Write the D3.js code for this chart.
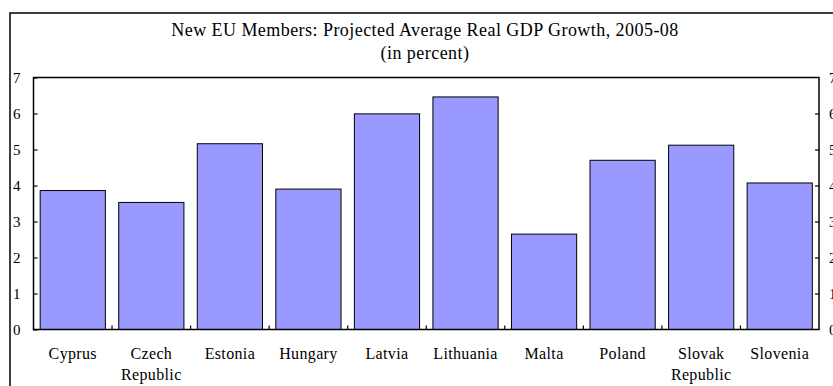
<!DOCTYPE html>
<html><head><meta charset="utf-8">
<script src="https://cdn.jsdelivr.net/npm/d3@7"></script>
<style>
html,body{margin:0;padding:0;background:#fff;}
svg{display:block;}
text{font-family:"Liberation Serif","Times New Roman",serif;fill:#000;}
</style></head>
<body>
<svg id="chart" width="833" height="386"></svg>
<script>
const categories = ["Cyprus","Czech\nRepublic","Estonia","Hungary","Latvia","Lithuania","Malta","Poland","Slovak\nRepublic","Slovenia"];
const growth = [3.86,3.53,5.16,3.9,5.99,6.46,2.65,4.7,5.12,4.07];
const yTicks = [0,1,2,3,4,5,6,7];
const titleLines = ["New EU Members: Projected Average Real GDP Growth, 2005-08","(in percent)"];

const svg = d3.select("#chart");
const L = 33.5, R = 819, T = 77.5, B = 329.5;

// outer frame (extends past canvas)
svg.append("rect").attr("x",10).attr("y",13).attr("width",900).attr("height",500)
  .attr("fill","none").attr("stroke","#000").attr("stroke-width",1.5);

const x = d3.scaleBand().domain(categories).range([L,R]).paddingInner(0.17).paddingOuter(0.085);
const y = d3.scaleLinear().domain([0,7]).range([B,T]);

// title
svg.selectAll("text.title").data(titleLines).join("text").attr("class","title")
  .attr("x",425).attr("y",(d,i)=>36+i*23).attr("text-anchor","middle")
  .style("font-size","18px").style("letter-spacing","0.45px").text(d=>d);

// bars
svg.selectAll("rect.bar").data(growth).join("rect").attr("class","bar")
  .attr("x",(d,i)=>x(categories[i])).attr("width",x.bandwidth())
  .attr("y",d=>y(d)).attr("height",d=>B-y(d))
  .attr("fill","#9999FF").attr("stroke","#000").attr("stroke-width",1);

// plot frame
svg.append("rect").attr("x",L).attr("y",T).attr("width",R-L).attr("height",B-T)
  .attr("fill","none").attr("stroke","#000").attr("stroke-width",1.5);

// left axis
const yl = svg.append("g").attr("transform",`translate(${L},0)`)
  .call(d3.axisRight(y).tickValues(yTicks).tickSize(4).tickFormat(""));
yl.select(".domain").remove();
yl.selectAll("line").attr("stroke","#000").attr("stroke-width",1.2);
svg.selectAll("text.yl").data(yTicks).join("text").attr("class","yl")
  .attr("x",13).attr("y",d=>y(d)).attr("dy","0.35em").style("font-size","15px").text(d=>d);

// right axis
const yr = svg.append("g").attr("transform",`translate(${R},0)`)
  .call(d3.axisLeft(y).tickValues(yTicks.filter(d=>d>0&&d<7)).tickSize(4).tickFormat(""));
yr.select(".domain").remove();
yr.selectAll("line").attr("stroke","#000").attr("stroke-width",1.2);
svg.selectAll("text.yr").data(yTicks).join("text").attr("class","yr")
  .attr("x",829).attr("y",d=>y(d)).attr("dy","0.35em").style("font-size","15px").text(d=>d);

// x boundary ticks
const step = x.step();
const bounds = d3.range(1,categories.length).map(i=>x(categories[i]) - x.paddingInner()*step/2);
svg.selectAll("line.xt").data(bounds).join("line").attr("class","xt")
  .attr("x1",d=>d).attr("x2",d=>d).attr("y1",B).attr("y2",B-4)
  .attr("stroke","#000").attr("stroke-width",1.2);

// x labels
const xl = svg.selectAll("text.xl").data(categories).join("text").attr("class","xl")
  .attr("text-anchor","middle").style("font-size","16px").style("letter-spacing","0.35px");
xl.each(function(d){
  const cx = x(d)+x.bandwidth()/2;
  d3.select(this).selectAll("tspan").data(d.split("\n")).join("tspan")
    .attr("x",cx).attr("y",(t,i)=>359+i*21).text(t=>t);
});
</script>
</body></html>
